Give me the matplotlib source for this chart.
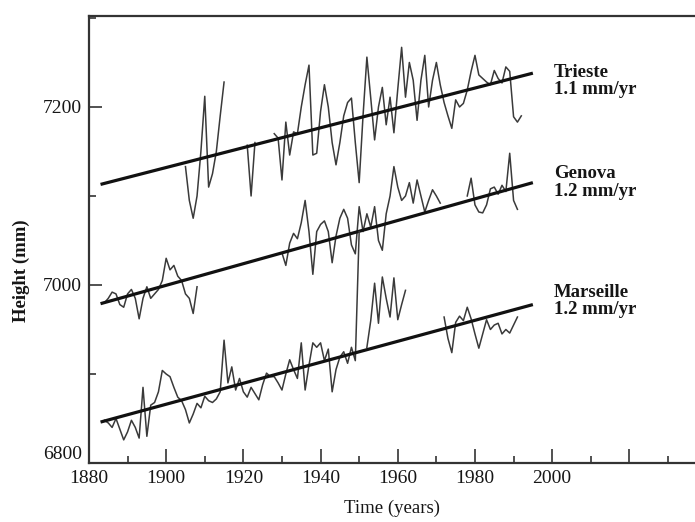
import numpy as np
import matplotlib
matplotlib.use('Agg')
import matplotlib.pyplot as plt
from matplotlib.ticker import MultipleLocator

plt.rcParams["font.family"] = 'Liberation Serif'
nan = np.nan

# annual mean sea level (mm); nan = no record
trieste_years = np.arange(1905, 1993)
trieste = [7133, 7095, 7075, 7100, 7150, 7212, 7110, 7125, 7150, 7190,
           7228, nan, nan, nan, nan, nan, 7157, 7100, 7160, nan,
           nan, nan, nan, 7170, 7165, 7118, 7183, 7146, 7172, 7170,
           7200, 7225, 7247, 7146, 7148, 7195, 7225, 7200, 7160, 7135,
           7160, 7190, 7205, 7210, 7160, 7115, 7190, 7256, 7210, 7163,
           7200, 7222, 7180, 7211, 7171, 7220, 7267, 7211, 7250, 7230,
           7185, 7230, 7258, 7200, 7230, 7250, 7225, 7205, 7190, 7176,
           7208, 7200, 7204, 7219, 7240, 7258, 7236, 7232, 7228, 7225,
           7241, 7232, 7227, 7245, 7240, 7189, 7183, 7190]

genova_years = np.arange(1884, 1992)
genova = [6980, 6985, 6992, 6990, 6978, 6975, 6990, 6995, 6985, 6962,
          6985, 6998, 6985, 6990, 6995, 7005, 7030, 7017, 7022, 7010,
          7005, 6990, 6985, 6968, 6998, nan, nan, nan, nan, nan,
          nan, nan, nan, nan, nan, nan, nan, nan, nan, nan,
          nan, nan, nan, nan, nan, nan, 7036, 7022, 7047, 7058,
          7052, 7070, 7095, 7060, 7012, 7060, 7068, 7072, 7060, 7025,
          7055, 7075, 7085, 7075, 7045, 7035, 7088, 7060, 7080, 7065,
          7088, 7050, 7039, 7080, 7100, 7133, 7110, 7095, 7100, 7115,
          7092, 7118, 7100, 7082, 7095, 7107, 7100, 7092, nan, nan,
          nan, nan, nan, nan, 7100, 7120, 7090, 7082, 7081, 7090,
          7108, 7110, 7102, 7112, 7105, 7148, 7095, 7085]

marseille_years = np.arange(1884, 1992)
marseille = [6848, 6845, 6840, 6850, 6838, 6826, 6835, 6848, 6840, 6828,
             6885, 6830, 6865, 6868, 6880, 6904, 6900, 6897, 6885, 6874,
             6870, 6860, 6845, 6855, 6867, 6862, 6875, 6870, 6868, 6872,
             6880, 6938, 6890, 6908, 6882, 6895, 6880, 6874, 6885, 6878,
             6871, 6888, 6901, 6897, 6897, 6890, 6882, 6900, 6916, 6905,
             6895, 6935, 6882, 6910, 6935, 6930, 6935, 6915, 6928, 6880,
             6905, 6919, 6925, 6912, 6930, 6915, 7060, nan, 6930, 6960,
             7002, 6957, 7009, 6985, 6964, 7008, 6961, 6978, 6994, nan,
             nan, nan, nan, nan, nan, nan, nan, nan, 6964, 6940,
             6924, 6958, 6965, 6960, 6975, 6962, 6945, 6929, 6945, 6961,
             6950, 6955, 6957, 6945, 6950, 6946, 6955, 6964]

# fitted linear trends (end points)
trend_years = [1883, 1995]
trieste_trend = [7113, 7238]
genova_trend = [6979, 7115]
marseille_trend = [6846, 6978]

stations = ['Trieste', 'Genova', 'Marseille']
rates = ['1.1 mm/yr', '1.2 mm/yr', '1.2 mm/yr']

xticks = [1880, 1900, 1920, 1940, 1960, 1980, 2000, 2020]
xticklabels = ['1880', '1900', '1920', '1940', '1960', '1980', '2000', '']
yticks = [6800, 7000, 7200]

fig = plt.figure(figsize=(6.95, 5.22), dpi=100)
ax = fig.add_axes([0.128, 0.113, 0.872, 0.856])

series = [(trieste_years, trieste, trieste_trend),
          (genova_years, genova, genova_trend),
          (marseille_years, marseille, marseille_trend)]
for yrs, vals, trend in series:
    ax.plot(yrs, np.array(vals, dtype=float), color='#3a3a3a', lw=1.1)
    ax.plot(trend_years, trend, color='#111111', lw=2.3, solid_capstyle='butt')

label_y = [7229, 7115, 6982]
for name, rate, yy in zip(stations, rates, label_y):
    ax.text(2000.5, yy, name + '\n' + rate, fontsize=13.5, fontweight='bold',
            va='center', ha='left', linespacing=1.05, color='#161616')

ax.set_xlim(1880, 2037)
ax.set_ylim(6800, 7302)
ax.set_xticks(xticks)
ax.set_xticklabels(xticklabels)
ax.xaxis.set_minor_locator(MultipleLocator(10))
ax.set_yticks(yticks)
ax.yaxis.set_minor_locator(MultipleLocator(100))

ax.tick_params(which='both', direction='in', labelsize=14, color='#333333',
               labelcolor='#161616', width=1.2)
ax.tick_params(axis='x', which='major', length=10, pad=5)
ax.tick_params(axis='x', which='minor', length=5)
ax.tick_params(axis='y', which='major', length=9, pad=5)
ax.tick_params(axis='y', which='minor', length=5)

# lift the bottom y label clear of the 1880 label, as in the original
ax.yaxis.get_major_ticks()[0].label1.set_verticalalignment('bottom')

for s in ['left', 'bottom', 'top']:
    ax.spines[s].set_linewidth(1.6)
    ax.spines[s].set_color('#333333')
ax.spines['right'].set_visible(False)

ax.set_xlabel('Time (years)', fontsize=13.5, color='#161616', labelpad=9)
ax.set_ylabel('Height (mm)', fontsize=13.5, fontweight='bold', color='#161616')
ax.yaxis.set_label_coords(-0.097, 0.43)

fig.savefig('out.png', dpi=100)
